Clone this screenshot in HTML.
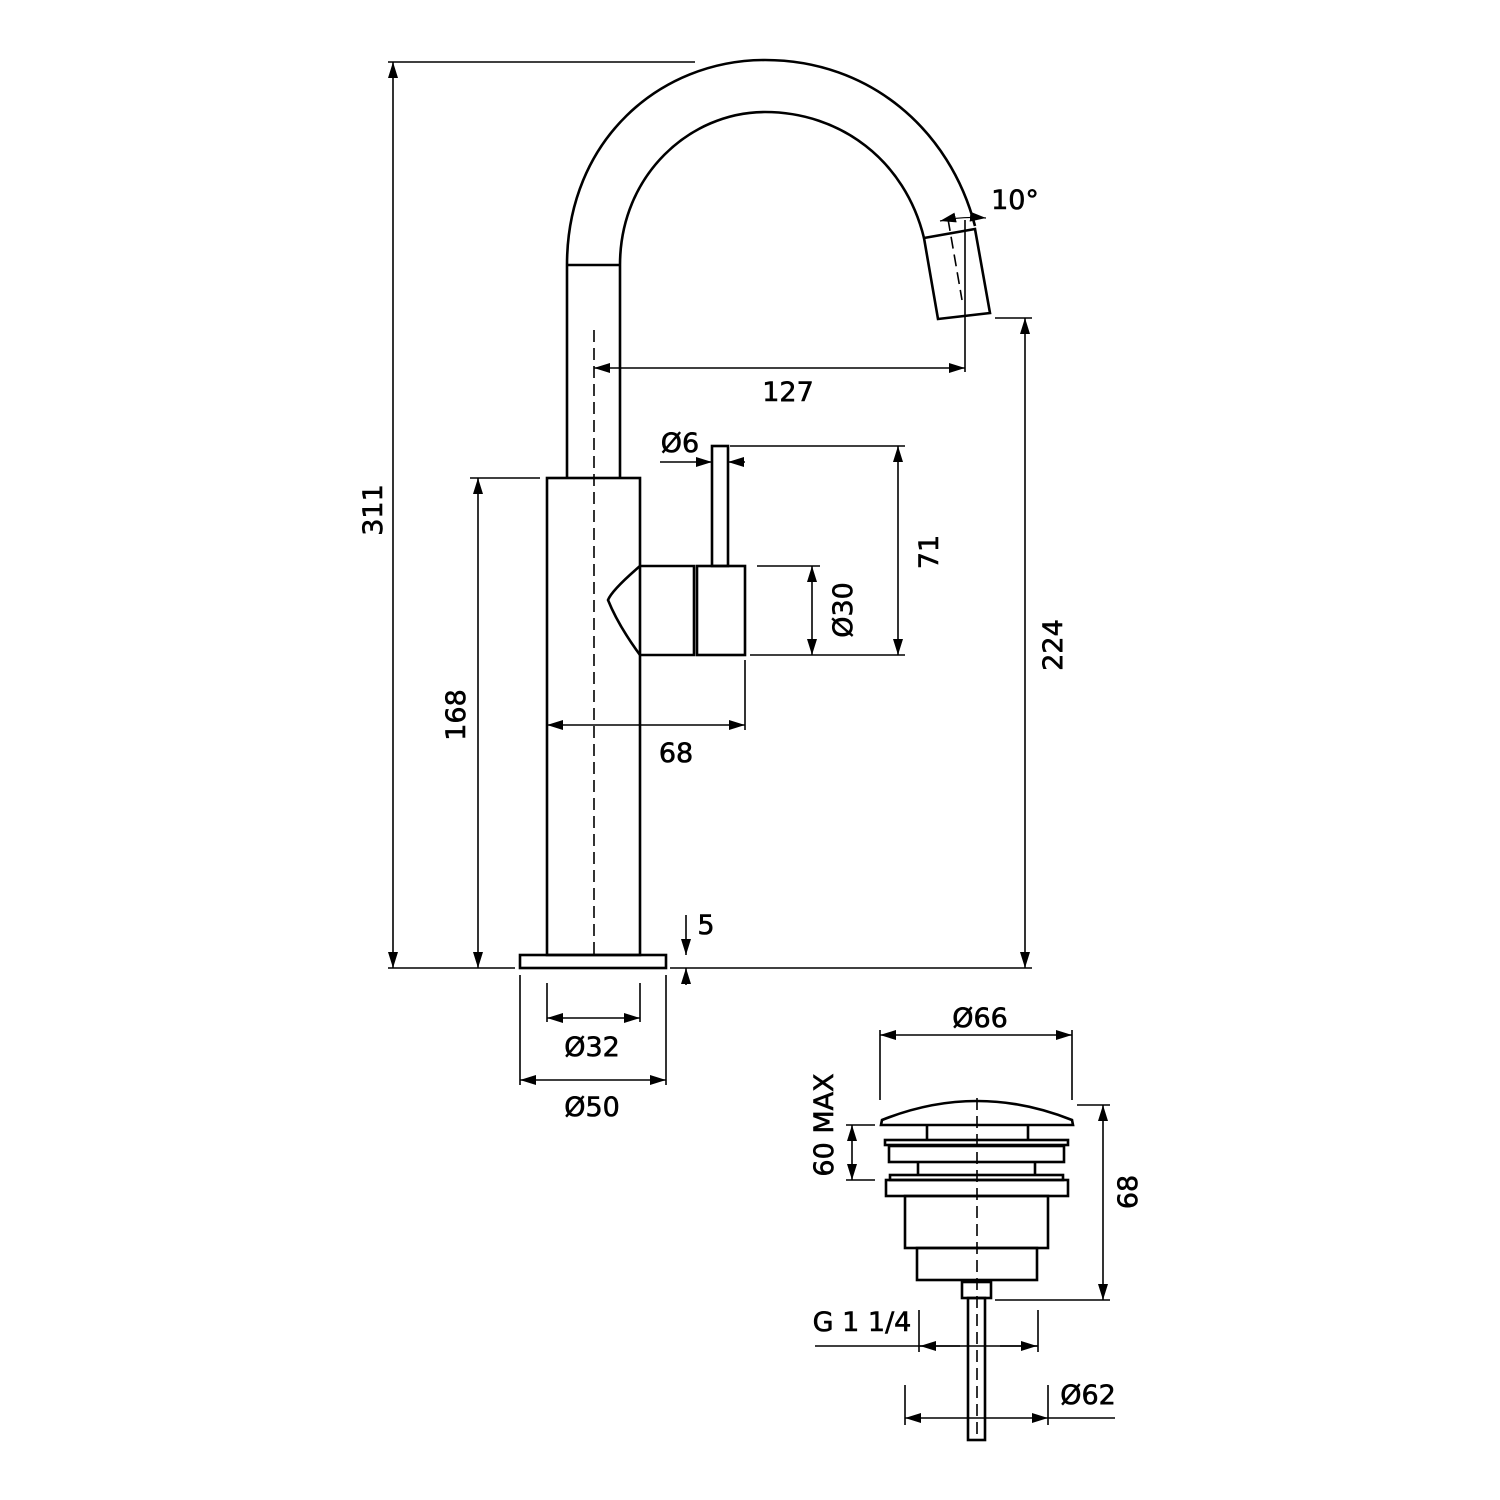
<!DOCTYPE html>
<html><head><style>body{margin:0;background:#fff}svg{display:block}</style></head><body>
<svg width="1500" height="1500" viewBox="0 0 1500 1500" xmlns="http://www.w3.org/2000/svg" font-family="'DejaVu Sans','Liberation Sans',sans-serif" font-size="27" fill="none" stroke="#000">
<defs>
<marker id="a" viewBox="0 0 16 10" refX="16" refY="5" markerWidth="16" markerHeight="10" markerUnits="userSpaceOnUse" orient="auto-start-reverse"><path d="M0,0L16,5L0,10z" fill="#000" stroke="none"/></marker>
</defs>
<g stroke-width="2.6">
<path d="M567,478 V265 C567,140 660,60 765,60 C870,60 950,130 975,226"/>
<path d="M620,478 V265 C620,175 690,112 765,112 C840,112 905,160 924,238"/>
<line x1="567" y1="265" x2="620" y2="265"/>
<path d="M924,238 L975,229 L990,313 L938,319 Z"/>
<rect x="547" y="478" width="93" height="477"/>
<rect x="520" y="955" width="146" height="13"/>
<path d="M640,566 H694 V655 H640 M640,566 Q612,590 608,600 Q618,625 640,655"/>
<rect x="697" y="566" width="48" height="89"/>
<rect x="712" y="446" width="16" height="120"/>
<path d="M882,1120 Q977,1082 1072,1120 L1073,1125 H881 Z"/>
<line x1="927" y1="1125" x2="927" y2="1140"/><line x1="1028" y1="1125" x2="1028" y2="1140"/>
<rect x="885" y="1140" width="183" height="5"/>
<rect x="889" y="1146" width="175" height="16"/>
<line x1="918" y1="1162" x2="918" y2="1174"/><line x1="1035" y1="1162" x2="1035" y2="1174"/>
<rect x="890" y="1175" width="173" height="5"/>
<rect x="886" y="1180" width="182" height="16"/>
<rect x="905" y="1196" width="143" height="52"/>
<rect x="917" y="1248" width="120" height="32"/>
<rect x="962" y="1282" width="29" height="16"/>
<rect x="968" y="1298" width="17" height="142"/>
</g>
<g stroke-width="1.6" stroke-dasharray="12,6">
<line x1="594" y1="330" x2="594" y2="955"/>
<line x1="977" y1="1098" x2="977" y2="1440"/>
<line x1="948" y1="219" x2="962" y2="300"/>
</g>
<g stroke-width="1.6">
<line x1="388" y1="62" x2="695" y2="62"/>
<line x1="388" y1="968" x2="515" y2="968"/>
<line x1="470" y1="478" x2="540" y2="478"/>
<line x1="995" y1="318" x2="1032" y2="318"/>
<line x1="670" y1="968" x2="1032" y2="968"/>
<line x1="965" y1="220" x2="965" y2="372"/>
<line x1="730" y1="446" x2="905" y2="446"/>
<line x1="750" y1="655" x2="905" y2="655"/>
<line x1="757" y1="566" x2="820" y2="566"/>
<line x1="745" y1="660" x2="745" y2="730"/>
<line x1="547" y1="983" x2="547" y2="1022"/><line x1="640" y1="983" x2="640" y2="1022"/>
<line x1="520" y1="975" x2="520" y2="1085"/><line x1="666" y1="975" x2="666" y2="1085"/>
<line x1="880" y1="1030" x2="880" y2="1100"/><line x1="1072" y1="1030" x2="1072" y2="1100"/>
<line x1="1077" y1="1105" x2="1110" y2="1105"/><line x1="995" y1="1300" x2="1110" y2="1300"/>
<line x1="846" y1="1125" x2="875" y2="1125"/><line x1="846" y1="1180" x2="875" y2="1180"/>
<line x1="919" y1="1310" x2="919" y2="1352"/><line x1="1038" y1="1310" x2="1038" y2="1352"/>
<line x1="905" y1="1385" x2="905" y2="1425"/><line x1="1048" y1="1385" x2="1048" y2="1425"/>
<line x1="393" y1="62" x2="393" y2="968" marker-start="url(#a)" marker-end="url(#a)"/>
<line x1="478" y1="478" x2="478" y2="968" marker-start="url(#a)" marker-end="url(#a)"/>
<line x1="1025" y1="318" x2="1025" y2="968" marker-start="url(#a)" marker-end="url(#a)"/>
<line x1="594" y1="368" x2="965" y2="368" marker-start="url(#a)" marker-end="url(#a)"/>
<line x1="660" y1="462" x2="712" y2="462" marker-end="url(#a)"/>
<line x1="745" y1="462" x2="728" y2="462" marker-end="url(#a)"/>
<line x1="898" y1="446" x2="898" y2="655" marker-start="url(#a)" marker-end="url(#a)"/>
<line x1="812" y1="566" x2="812" y2="655" marker-start="url(#a)" marker-end="url(#a)"/>
<line x1="547" y1="725" x2="745" y2="725" marker-start="url(#a)" marker-end="url(#a)"/>
<line x1="686" y1="915" x2="686" y2="955" marker-end="url(#a)"/>
<line x1="686" y1="985" x2="686" y2="968" marker-end="url(#a)"/>
<line x1="547" y1="1018" x2="640" y2="1018" marker-start="url(#a)" marker-end="url(#a)"/>
<line x1="520" y1="1080" x2="666" y2="1080" marker-start="url(#a)" marker-end="url(#a)"/>
<line x1="880" y1="1035" x2="1072" y2="1035" marker-start="url(#a)" marker-end="url(#a)"/>
<line x1="1103" y1="1105" x2="1103" y2="1300" marker-start="url(#a)" marker-end="url(#a)"/>
<line x1="852" y1="1125" x2="852" y2="1180" marker-start="url(#a)" marker-end="url(#a)"/>
<line x1="815" y1="1346" x2="1038" y2="1346"/>
<line x1="960" y1="1346" x2="920" y2="1346" marker-end="url(#a)"/>
<line x1="1000" y1="1346" x2="1037" y2="1346" marker-end="url(#a)"/>
<line x1="1048" y1="1418" x2="1115" y2="1418"/>
<line x1="905" y1="1418" x2="1048" y2="1418" marker-start="url(#a)" marker-end="url(#a)"/>
<path d="M940,221 Q962,216 986,218" marker-start="url(#a)" marker-end="url(#a)" stroke-width="1.2"/>
</g>
<g fill="#000" stroke="#000" stroke-width="0.6" text-anchor="middle">
<text x="1015" y="209">10°</text>
<text x="788" y="401">127</text>
<text x="680" y="452">Ø6</text>
<text x="676" y="762">68</text>
<text x="706" y="934">5</text>
<text x="592" y="1056">Ø32</text>
<text x="592" y="1116">Ø50</text>
<text x="980" y="1027">Ø66</text>
<text x="862" y="1331">G 1 1/4</text>
<text x="1088" y="1404">Ø62</text>
<text transform="translate(382,510) rotate(-90)">311</text>
<text transform="translate(465,715) rotate(-90)">168</text>
<text transform="translate(1062,645) rotate(-90)">224</text>
<text transform="translate(938,552) rotate(-90)">71</text>
<text transform="translate(852,610) rotate(-90)">Ø30</text>
<text transform="translate(1137,1192) rotate(-90)">68</text>
<text transform="translate(833,1125) rotate(-90)">60 MAX</text>
</g>
</svg>
</body></html>
